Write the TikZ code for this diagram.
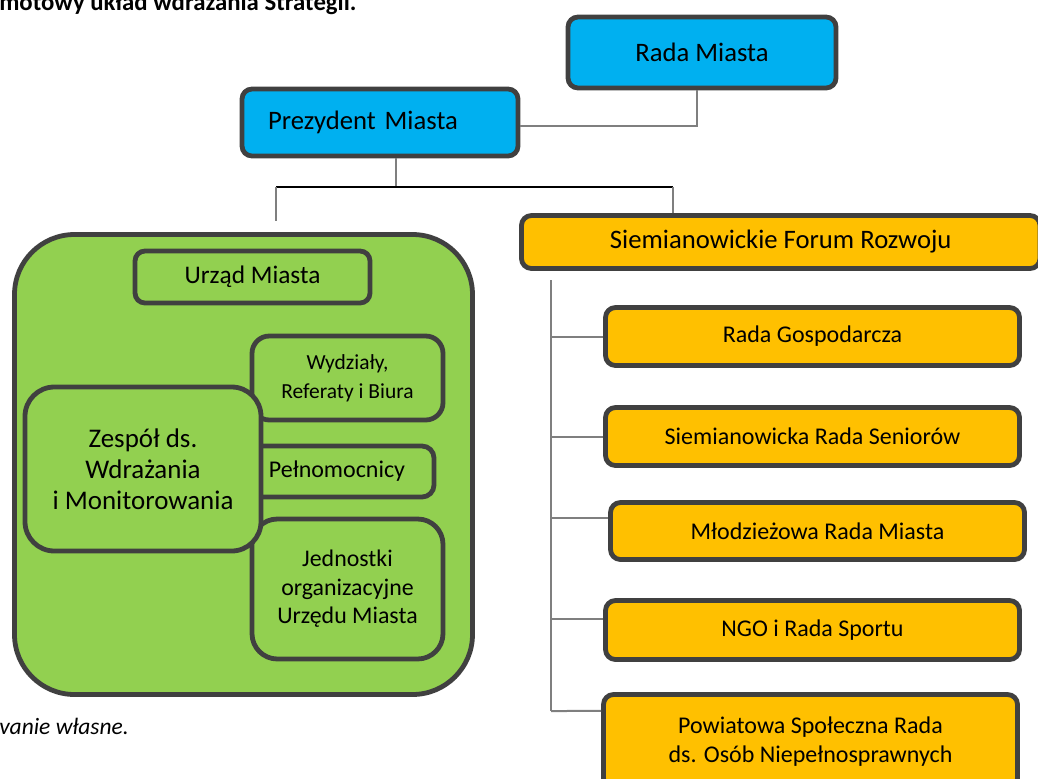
\documentclass[tikz,border=0pt]{standalone}
\usepackage{fontspec}
\setmainfont{Carlito}
\definecolor{blueC}{HTML}{00B0F0}
\definecolor{orC}{HTML}{FFC000}
\definecolor{grC}{HTML}{92D050}
\definecolor{bordC}{HTML}{404040}
\definecolor{connC}{HTML}{7F7F7F}
\begin{document}
\begin{tikzpicture}[x=0.75pt,y=-0.75pt,
  box/.style={draw=bordC, line width=3.6pt, rounded corners=7.5pt, inner sep=0pt, align=center, text=black},
  bluebox/.style={box, fill=blueC},
  orbox/.style={box, fill=orC},
  grbox/.style={box, fill=grC},
  conn/.style={draw=connC, line width=1.5pt},
  bar/.style={draw=black, line width=1.4pt},
  big/.style={font={\fontsize{20pt}{23pt}\selectfont}},
  mid/.style={font={\fontsize{18pt}{21.75pt}\selectfont}}
]
\useasboundingbox (0,0) rectangle (1038,778);
\clip (0,0) rectangle (1038,778);

% title and source
\node[anchor=base west, inner sep=0pt, font={\bfseries\fontsize{18.6pt}{20pt}\selectfont}] (title) at (-1,11) {motowy układ wdrażania Strategii.};
\node[anchor=base west, inner sep=0pt, font={\itshape\fontsize{17.6pt}{20pt}\selectfont}] (src) at (-1,734) {vanie własne.};

% top
\node[bluebox, big, minimum width=201pt, minimum height=53.25pt] (rada) at (702,52.5) {Rada Miasta};
\node[bluebox, big, minimum height=50.25pt, text width=168pt, align=left, inner xsep=19.5pt] (prez) at (380,122.5) {Prezydent Miasta};

% green group
\node[grbox, minimum width=343.5pt, minimum height=345pt, rounded corners=45pt] (green) at (243.5,464.5) {};
\node[grbox, font={\fontsize{19pt}{22pt}\selectfont}, minimum width=176.25pt, minimum height=39pt] (urzad) at (252.5,277) {Urząd Miasta};
\node[grbox, font={\fontsize{16.1pt}{21.75pt}\selectfont}, minimum width=143.25pt, minimum height=63pt, rounded corners=13pt] (wydz) at (347.5,378) {Wydziały,\\Referaty i Biura};
\node[grbox, font={\fontsize{18pt}{21pt}\selectfont}, minimum width=145.5pt, minimum height=38.25pt, rounded corners=9pt] (pelno) at (337,471.5) {Pełnomocnicy};
\node[grbox, font={\fontsize{17.9pt}{21.4pt}\selectfont}, minimum width=143.25pt, minimum height=105pt, rounded corners=19pt] (jedn) at (347.5,589) {Jednostki\\organizacyjne\\Urzędu Miasta};
\node[grbox, font={\fontsize{20.2pt}{23.25pt}\selectfont}, minimum width=177pt, minimum height=123pt, rounded corners=22pt] (zesp) at (143,469) {Zespół ds.\\Wdrażania\\i Monitorowania};

% orange group
\node[orbox, big, minimum width=388.9pt, minimum height=39.75pt] (sfr) at (780.75,242) {Siemianowickie Forum Rozwoju};
\node[orbox, mid, minimum width=310.5pt, minimum height=43.5pt] (rg) at (812.5,336.5) {Rada Gospodarcza};
\node[orbox, mid, minimum width=310.5pt, minimum height=43.5pt] (srs) at (812.5,436.5) {Siemianowicka Rada Seniorów};
\node[orbox, mid, minimum width=310.5pt, minimum height=42.75pt] (mrm) at (817.5,531) {Młodzieżowa Rada Miasta};
\node[orbox, mid, minimum width=310.5pt, minimum height=44.25pt] (ngo) at (812.5,630) {NGO i Rada Sportu};
\node[orbox, mid, minimum width=310.5pt, minimum height=70.5pt] (pow) at (810.5,741.5) {Powiatowa Społeczna Rada\\ds. Osób Niepełnosprawnych};

% connectors top
\draw[conn] ([xshift=-3.75pt]rada.south) |- ([yshift=-2.6pt]prez.east);
\coordinate (hub) at (396,187);
\coordinate (hl) at (276,187);
\coordinate (hr) at (673,187);
\coordinate (gtop) at (276,221);
\draw[conn] (prez.south -| hub) -- (hub);
\draw[bar] (hl) -- (hr);
\draw[conn] (hl) -- (gtop);
\draw[conn] (hr) -- (hr |- sfr.north);

% connectors right
\coordinate (vtop) at (551,280);
\coordinate (vbot) at (551,711);
\draw[conn] (vtop) -- (vbot);
\draw[conn] (rg.west -| vtop) -- (rg.west);
\draw[conn] (srs.west -| vtop) -- (srs.west);
\draw[conn] ([yshift=9.75pt]mrm.west -| vtop) -- ([yshift=9.75pt]mrm.west);
\draw[conn] ([yshift=8.25pt]ngo.west -| vtop) -- ([yshift=8.25pt]ngo.west);
\draw[conn] (vbot) -- ([yshift=22.9pt]pow.west);
\end{tikzpicture}
\end{document}
